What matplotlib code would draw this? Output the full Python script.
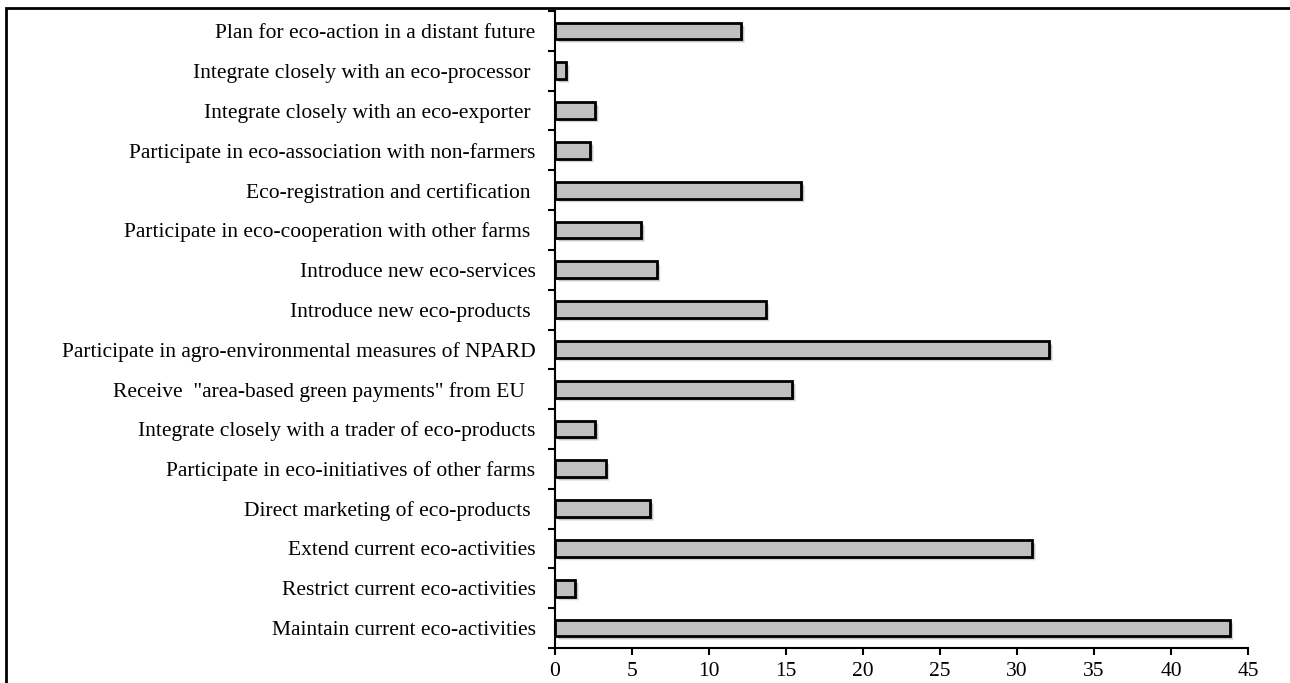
import matplotlib
matplotlib.use("Agg")
import matplotlib.pyplot as plt
import numpy as np
from matplotlib.patches import Rectangle
from matplotlib.ticker import FixedLocator, NullFormatter
import matplotlib.transforms as mtransforms

# Categories listed bottom to top
categories = [
    "Maintain current eco-activities",
    "Restrict current eco-activities",
    "Extend current eco-activities",
    "Direct marketing of eco-products ",
    "Participate in eco-initiatives of other farms",
    "Integrate closely with a trader of eco-products",
    "Receive  \"area-based green payments\" from EU  ",
    "Participate in agro-environmental measures of NPARD",
    "Introduce new eco-products ",
    "Introduce new eco-services",
    "Participate in eco-cooperation with other farms ",
    "Eco-registration and certification ",
    "Participate in eco-association with non-farmers",
    "Integrate closely with an eco-exporter ",
    "Integrate closely with an eco-processor ",
    "Plan for eco-action in a distant future",
]
values = [43.8, 1.3, 31.0, 6.2, 3.3, 2.6, 15.4, 32.1, 13.7, 6.6,
          5.6, 16.0, 2.3, 2.6, 0.7, 12.1]
x_ticks = [0, 5, 10, 15, 20, 25, 30, 35, 40, 45]

plt.rcParams["font.family"] = ["Liberation Serif", "DejaVu Serif"]

W, H = 1290, 683
fig = plt.figure(figsize=(W / 100, H / 100), dpi=100)

# Outer frame (top and left edges visible, the rest runs off the canvas)
frame = Rectangle((5.5 / W, -0.05), 1.2, 1 - 7.5 / H + 0.05,
                  transform=fig.transFigure, fill=False,
                  edgecolor="black", linewidth=2.0, zorder=0)
fig.patches.append(frame)

left, right, top, bottom = 555, 1248, 11, 648
ax = fig.add_axes([left / W, 1 - bottom / H, (right - left) / W, (bottom - top) / H])

n = len(categories)
y = np.arange(n)
bar_h = 0.42

# Soft drop shadow behind each bar
shadow_offsets = [(4.0, -4.0, 0.04), (3.5, -3.5, 0.05), (3.0, -3.0, 0.07),
                  (2.5, -2.5, 0.08), (2.0, -2.0, 0.09), (1.5, -1.5, 0.09)]
for dx, dy, a in shadow_offsets:
    off = mtransforms.offset_copy(ax.transData, fig=fig, x=dx, y=dy, units="dots")
    ax.barh(y, values, height=bar_h, color="black", alpha=a,
            linewidth=0, transform=off, zorder=1)

ax.barh(y, values, height=bar_h, color="#c0c0c0", edgecolor="black",
        linewidth=2.0, zorder=3)

ax.set_xlim(0, 45)
ax.set_ylim(-0.5, n - 0.5)
ax.set_xticks(x_ticks)
ax.set_xticklabels([str(t) for t in x_ticks], fontsize=15.5)

# Category names centred on bars; tick marks sit between bars
ax.set_yticks(y)
ax.set_yticklabels(categories, fontsize=15.5)
ax.yaxis.set_minor_locator(FixedLocator(np.arange(-0.5, n, 1.0)))
ax.yaxis.set_minor_formatter(NullFormatter())
ax.tick_params(axis="y", which="major", length=0, pad=14)
ax.tick_params(axis="y", which="minor", length=5, width=1.5, direction="out")
ax.tick_params(axis="x", which="major", length=5, width=1.5, direction="out", pad=5)

for side in ("top", "right"):
    ax.spines[side].set_visible(False)
for side in ("left", "bottom"):
    ax.spines[side].set_linewidth(1.5)

fig.savefig("out.png", dpi=100)
